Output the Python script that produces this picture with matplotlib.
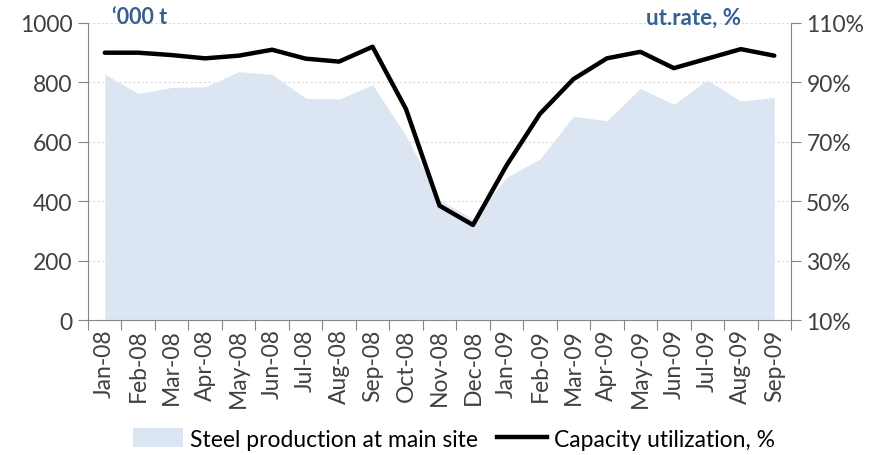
import matplotlib
matplotlib.use("Agg")
import matplotlib.pyplot as plt
from matplotlib.patches import Patch
from matplotlib.lines import Line2D
import numpy as np

months = ["Jan-08", "Feb-08", "Mar-08", "Apr-08", "May-08", "Jun-08", "Jul-08",
          "Aug-08", "Sep-08", "Oct-08", "Nov-08", "Dec-08", "Jan-09", "Feb-09",
          "Mar-09", "Apr-09", "May-09", "Jun-09", "Jul-09", "Aug-09", "Sep-09"]
production = [828, 763, 783, 785, 836, 827, 747, 744, 792, 620, 405, 340,
              480, 542, 686, 671, 780, 726, 808, 737, 749]
utilization = [100, 100, 99.2, 98.1, 99, 101, 98, 97, 102, 81, 48.5, 42,
               62, 79.4, 91.1, 98.1, 100.3, 94.8, 98, 101.2, 99]

plt.rcParams['font.family'] = ['Lato', 'DejaVu Sans']
txt = '#404040'
axc = '#868686'
blue = '#376092'

fig = plt.figure(figsize=(8.76, 4.56), dpi=100)
ax = fig.add_axes([88/876, 1-321/456, (791-88)/876, (321-24)/456])
x = np.arange(len(months))
ax.fill_between(x, production, 0, color='#DCE6F2', lw=0, zorder=1)
ax.set_xlim(-0.5, len(months)-0.5)
ax.set_ylim(0, 1000)
ax.set_yticks(range(0, 1001, 200))
for v in range(200, 1001, 200):
    ax.axhline(v, color='#D9D9D9', lw=0.8, ls=(0, (2, 2)), zorder=0)
ax.set_xticks(x)
ax.set_xticklabels(months, rotation=90, fontsize=16.5, color=txt)
ax.set_xticks(np.arange(-0.5, len(months)), minor=True)
ax.tick_params(axis='x', which='major', length=0, pad=6)
ax.tick_params(axis='x', which='minor', length=7, color=axc, width=0.8)
ax.tick_params(axis='y', length=7, color=axc, width=0.8, labelsize=16.5, labelcolor=txt, pad=4)
for s in ['top', 'right']:
    ax.spines[s].set_visible(False)
for s in ['left', 'bottom']:
    ax.spines[s].set_color(axc)
    ax.spines[s].set_linewidth(0.8)

ax2 = ax.twinx()
ax2.plot(x, utilization, color='black', lw=3.2, solid_capstyle='round', zorder=3)
ax2.set_ylim(10, 110)
ax2.set_yticks(range(10, 111, 20))
ax2.set_yticklabels([f"{v}%" for v in range(10, 111, 20)])
ax2.tick_params(axis='y', length=7, color=axc, width=0.8, labelsize=16.5, labelcolor=txt, pad=4)
for s in ['top', 'left', 'bottom']:
    ax2.spines[s].set_visible(False)
ax2.spines['right'].set_color(axc)
ax2.spines['right'].set_linewidth(0.8)

fig.text(112/876, 1-18/456, "\u2018000 t", fontsize=15.5, fontweight='bold', color=blue,
         ha='left', va='center')
fig.text(741/876, 1-18/456, "ut.rate, %", fontsize=16, fontweight='bold', color=blue,
         ha='right', va='center')

handles = [Patch(facecolor='#DCE6F2', edgecolor='none', label='Steel production at main site'),
           Line2D([0], [0], color='black', lw=3.2, label='Capacity utilization, %')]
fig.legend(handles=handles, loc='center', bbox_to_anchor=(454/876, 1-440/456), ncol=2,
           frameon=False, fontsize=16.5, handlelength=2.2, handleheight=0.9,
           columnspacing=0.8, handletextpad=0.3, labelcolor='black')

fig.savefig("out.png", dpi=100)
